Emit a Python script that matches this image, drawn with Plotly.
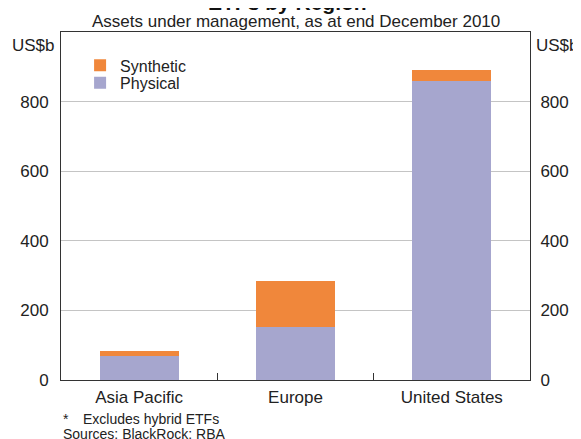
import plotly.graph_objects as go

categories = ["Asia Pacific", "Europe", "United States"]
physical = [70, 152, 860]
synthetic = [13, 132, 31]
y_ticks = [0, 200, 400, 600, 800]

FONT = "Arial, Liberation Sans, sans-serif"
ORANGE = "#F0873B"
PURPLE = "#A6A6CE"
TXT = "#222"

fig = go.Figure()
fig.add_trace(go.Bar(x=categories, y=physical, name="Physical", marker_color=PURPLE,
                     marker_line_width=0, width=0.506, legend="legend2"))
fig.add_trace(go.Bar(x=categories, y=synthetic, name="Synthetic", marker_color=ORANGE,
                     marker_line_width=0, width=0.506, legend="legend"))
fig.add_trace(go.Scatter(x=categories, y=[None] * len(categories), yaxis="y2",
                         showlegend=False, hoverinfo="skip"))

leg_common = dict(xanchor="left", yanchor="top", font=dict(size=16, color=TXT),
                  bgcolor="rgba(0,0,0,0)", itemwidth=30)

fig.update_layout(
    width=573, height=431,
    margin=dict(l=50, r=49, t=24, b=59),
    barmode="stack",
    paper_bgcolor="white", plot_bgcolor="white",
    font=dict(family=FONT, size=17, color=TXT),
    showlegend=True,
    legend=dict(x=0.0407, y=0.953, **leg_common),
    legend2=dict(x=0.0407, y=0.903, **leg_common),
    xaxis=dict(
        showline=True, linecolor="#333", linewidth=1, mirror=True,
        ticks="inside", tickson="boundaries", ticklen=7, tickcolor="#333",
        showgrid=False, tickfont=dict(size=17), ticklabelstandoff=2,
    ),
    yaxis=dict(
        range=[0, 1000], tickvals=y_ticks, showline=True, linecolor="#333", linewidth=1,
        showgrid=True, gridcolor="#C4C4C4", gridwidth=1, zeroline=False,
        ticks="", ticklabelstandoff=8, tickfont=dict(size=17),
    ),
    yaxis2=dict(
        range=[0, 1000], tickvals=y_ticks, overlaying="y", side="right",
        showline=True, linecolor="#333", linewidth=1, showgrid=False, zeroline=False,
        ticks="", ticklabelstandoff=6, tickfont=dict(size=17),
    ),
    annotations=[
        dict(text="<b>ETFs by Region*</b>", xref="paper", yref="paper", x=0.5, y=1.047,
             xshift=-4, xanchor="center", yanchor="bottom", showarrow=False,
             font=dict(size=21, color="#111")),
        dict(text="Assets under management, as at end December 2010", xref="paper", yref="paper",
             x=0.5, y=1.0, yshift=-1, xanchor="center", yanchor="bottom", showarrow=False,
             font=dict(size=17, color=TXT)),
        dict(text="US$b", xref="paper", yref="paper", x=0, y=1, xshift=-4, yshift=-2,
             xanchor="right", yanchor="top", showarrow=False, font=dict(size=17, color=TXT)),
        dict(text="US$b", xref="paper", yref="paper", x=1, y=1, xshift=4, yshift=-2,
             xanchor="left", yanchor="top", showarrow=False, font=dict(size=17, color=TXT)),
        dict(text="*", xref="paper", yref="paper",
             x=0, y=0, yshift=-39, xanchor="left", yanchor="middle", showarrow=False,
             font=dict(size=14, color=TXT), align="left"),
        dict(text="Excludes hybrid ETFs", xref="paper", yref="paper",
             x=0, y=0, xshift=20, yshift=-39, xanchor="left", yanchor="middle", showarrow=False,
             font=dict(size=14, color=TXT), align="left"),
        dict(text="Sources: BlackRock: RBA", xref="paper", yref="paper",
             x=0, y=0, yshift=-54, xanchor="left", yanchor="middle", showarrow=False,
             font=dict(size=14, color=TXT), align="left"),
    ],
)

fig.write_html("out.html")
